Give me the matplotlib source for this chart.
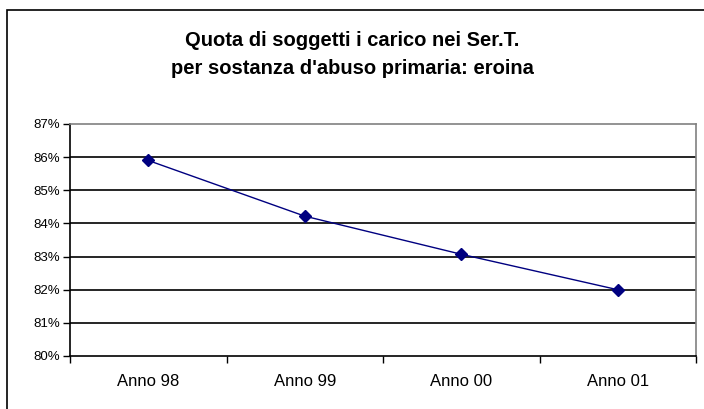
import matplotlib
matplotlib.use("Agg")
import matplotlib.pyplot as plt
from matplotlib.patches import Rectangle

plt.rcParams['font.family'] = ['Liberation Sans', 'DejaVu Sans']

anni = ["Anno 98", "Anno 99", "Anno 00", "Anno 01"]
quota = [85.9, 84.22, 83.07, 82.0]
y_ticks = [80, 81, 82, 83, 84, 85, 86, 87]

W, H = 704, 409
fig = plt.figure(figsize=(W / 100, H / 100), dpi=100)
fig.patch.set_facecolor("white")

# cornice dell'area grafico (esce dall'immagine a destra e in basso)
fig.patches.append(Rectangle((7 / W, -0.05), 1.1, 1 - 10 / H + 0.05,
                             transform=fig.transFigure, fill=False,
                             edgecolor="black", linewidth=1.2))

ax = fig.add_axes([70 / W, 1 - 356 / H, 626 / W, 232 / H])
x = list(range(len(anni)))
ax.plot(x, quota, color="#000080", linewidth=1, marker="D", markersize=6,
        markerfacecolor="#000080", markeredgecolor="#000080")

ax.set_xlim(-0.5, len(anni) - 0.5)
ax.set_ylim(80, 87)
ax.set_yticks(y_ticks)
ax.set_yticklabels([f"{v}%" for v in y_ticks], fontsize=9.5)
ax.set_xticks(x)
ax.set_xticklabels(anni, fontsize=12)
ax.set_xticks([i - 0.5 for i in range(len(anni) + 1)], minor=True)
ax.tick_params(axis="x", which="major", length=0, pad=13)
ax.tick_params(axis="x", which="minor", length=5, width=1, direction="out", color="black")
ax.tick_params(axis="y", length=5, width=1, direction="out", color="black", pad=2)

for v in y_ticks[1:-1]:
    ax.axhline(v, color="black", linewidth=1.2, zorder=1)

for s in ["left", "bottom"]:
    ax.spines[s].set_color("black")
    ax.spines[s].set_linewidth(1.2)
for s in ["top", "right"]:
    ax.spines[s].set_color("#808080")
    ax.spines[s].set_linewidth(1.2)

fig.text(352 / W, 1 - 40 / H, "Quota di soggetti i carico nei Ser.T.",
         ha="center", va="center", fontsize=14.5, fontweight="bold")
fig.text(352 / W, 1 - 68 / H, "per sostanza d'abuso primaria: eroina",
         ha="center", va="center", fontsize=14.5, fontweight="bold")

fig.savefig("out.png", dpi=100)
